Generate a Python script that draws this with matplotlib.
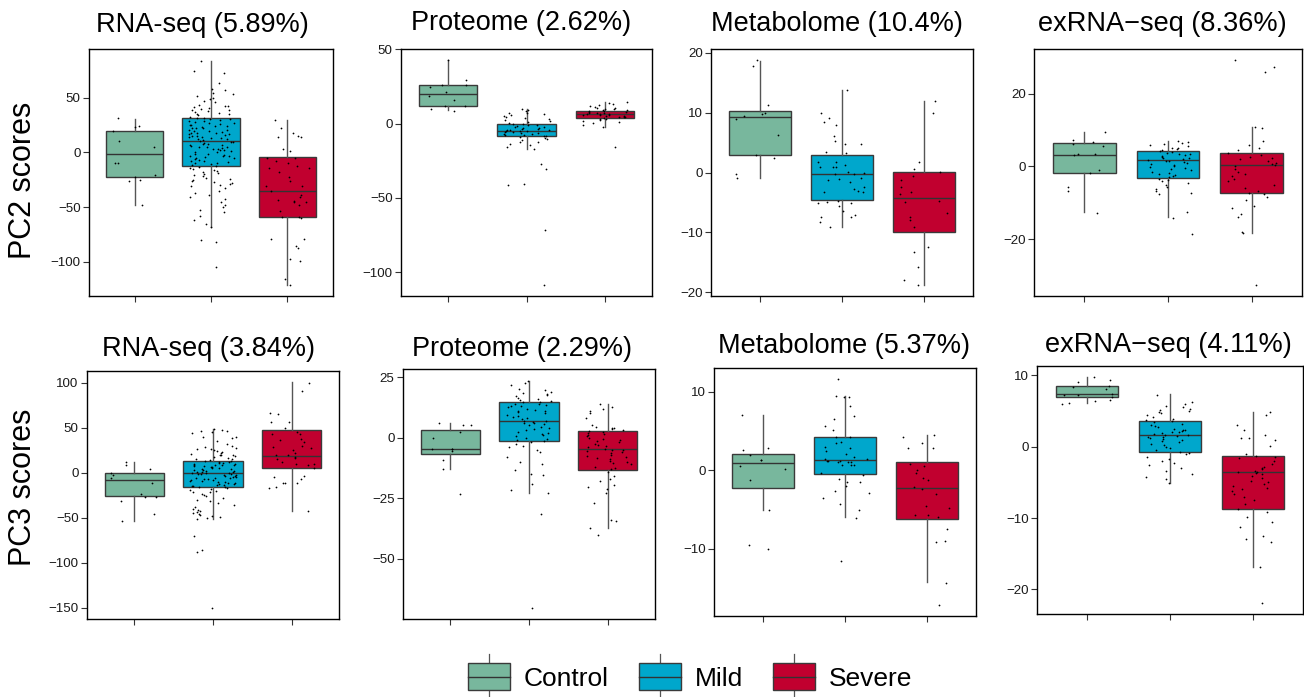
import numpy as np
import matplotlib
matplotlib.use("Agg")
import matplotlib.pyplot as plt
from matplotlib.patches import Rectangle, Patch
from matplotlib.lines import Line2D
from matplotlib.legend_handler import HandlerBase

plt.rcParams['font.family'] = ['Liberation Sans', 'DejaVu Sans']

# ---------------- data ----------------
groups = ["Control", "Mild", "Severe"]
group_colors = ["#78B79D", "#00A7CC", "#C1002F"]
row_labels = ["PC2 scores", "PC3 scores"]
titles_pc2 = ["RNA-seq (5.89%)", "Proteome (2.62%)", "Metabolome (10.4%)", "exRNA\u2212seq (8.36%)"]
titles_pc3 = ["RNA-seq (3.84%)", "Proteome (2.29%)", "Metabolome (5.37%)", "exRNA\u2212seq (4.11%)"]

# box statistics per group: (whisker low, q1, median, q3, whisker high)
rna_pc2_box = [(-48.0, -22.6, -1.5, 19.3, 30.9), (-68.5, -12.5, 10.4, 31.2, 84.0), (-121.4, -59.3, -34.9, -4.3, 29.4)]
prot_pc2_box = [(9.2, 11.9, 19.7, 26.2, 42.6), (-16.8, -8.7, -4.7, -0.2, 9.9), (-2.0, 3.8, 6.5, 8.3, 14.8)]
met_pc2_box = [(-1.0, 2.84, 9.25, 10.25, 18.66), (-9.08, -4.57, -0.28, 2.9, 13.7), (-18.77, -9.97, -4.18, 0.11, 11.87)]
exr_pc2_box = [(-12.6, -1.65, 3.2, 6.3, 9.4), (-13.9, -3.2, 1.65, 4.2, 7.0), (-18.1, -7.3, 0.27, 3.66, 10.7)]
rna_pc3_box = [(-53.3, -26.3, -8.5, 0.0, 12.2), (-51.1, -15.9, 0.0, 13.3, 48.5), (-42.2, 4.8, 18.1, 47.0, 100.4)]
prot_pc3_box = [(-12.9, -6.6, -4.5, 3.2, 6.0), (-22.8, -1.4, 7.0, 14.8, 23.5), (-37.2, -13.3, -4.7, 2.9, 14.0)]
met_pc3_box = [(-5.07, -2.26, 0.9, 2.13, 7.0), (-6.0, -0.47, 1.28, 4.22, 9.42), (-14.3, -6.18, -2.22, 1.02, 4.48)]
exr_pc3_box = [(6.07, 6.9, 7.4, 8.5, 9.75), (-5.09, -0.7, 1.68, 3.64, 7.33), (-16.85, -8.8, -3.6, -1.26, 4.85)]

# individual sample scores
rna_pc2_control = [31.5, 23.5, 23.9, 19.9, 10.1, 5.2, -9.5, -10.0, -20.2, -25.1, -25.7, -22.9, -47.7]
rna_pc2_mild = [84, 75, 73, 64, 58, 57, 55, 54, 52, 50, 49, 47, 46, 44, 43, 43, 42, 41, 40, 39, 39, 38, 37, 36,
                35, 35, 34, 33, 32, 32, 31, 30.5, 30, 29, 28.5, 28, 27, 27, 26, 25.5, 25, 24, 24, 23, 22.5, 22,
                22, 21, 21, 20, 19.5, 19, 18, 18, 18, 17, 16.5, 16, 15, 15, 14, 14, 13.5, 13, 12, 12, 11, 10.5,
                10, 9.5, 9, 8, 8, 7, 6.5, 6, 5, 5, 5, 4, 3.5, 3, 2, 2, 1, 0.5, 0, -1, -1.5, -2, -3, -3, -3.5, -4,
                -5, -5, -6, -7, -7.5, -8, -9, -9.5, -10, -11, -11.5, -12, -13, -14, -15, -16, -17, -18, -19,
                -20, -21, -22, -23, -24, -25, -26, -27, -28, -29, -30, -31, -33, -35, -37, -39, -41, -43, -45,
                -48, -50, -53, -55, -58, -62, -66, -68, -80, -82, -105]
rna_pc2_severe = [30, 18.3, 22.9, 15.3, 13.8, 13.8, 3.4, 1.8, -4.6, -9.2, -7.6, -13.8, -14.4, -18, -22.9, -30.3,
                  -34.9, -38.8, -40.4, -45, -45, -48.6, -44, -44.6, -53.2, -59.3, -59.3, -78.9, -79.5, -86.2,
                  -87.8, -97.5, -99.1, -115.6, -121.4, -5.2, -26, -31, -12, -60.5]

prot_pc2_control = [42.6, 29.4, 24.7, 26.2, 26.2, 18.6, 15.9, 21.1, 11.9, 11.9, 9.9, 8.7]
prot_pc2_mild = [9.9, 9.2, 8.5, 7.4, 6.9, 6.3, 5.8, 4.9, 4.1, 3.6, 3.0, 2.4, 1.5, 0.8, 0.3, 0.0, -0.4, -0.9, -1.3,
                 -1.7, -2.1, -2.5, -2.8, -3.2, -3.4, -3.8, -4.0, -4.3, -4.5, -4.8, -5.0, -5.3, -5.6, -5.9, -6.1,
                 -6.5, -6.8, -7.0, -7.4, -7.8, -8.1, -8.6, -9.0, -9.6, -10.2, -11.0, -12.1, -12.7, -13.6, -14.4,
                 -15.5, -16.8, -26.9, -30.5, -41.0, -41.7, -71.7, -108.5]
prot_pc2_severe = [14.8, 14.0, 13.5, 12.6, 11.8, 11.2, 10.8, 10.4, 10.0, 9.6, 9.2, 8.9, 8.5, 8.2, 8.0, 7.7, 7.4,
                   7.2, 6.9, 6.7, 6.5, 6.3, 6.0, 5.8, 5.5, 5.2, 5.0, 4.7, 4.4, 4.1, 3.8, 3.4, 3.0, 2.5, 1.8, 1.0,
                   0.2, -1.0, -2.0, -15.5]

met_pc2_control = [18.7, 17.8, 11.2, 9.5, 8.9, 9.9, 9.8, 6.3, 2.9, 2.45, -0.17, -1.0]
met_pc2_mild = [13.7, 9.1, 9.9, 8.4, 8.0, 6.1, 4.8, 4.7, 5.2, 3.5, 3.2, 1.7, 1.8, 1.0, 1.0, 1.0, 1.2, 0.1, -0.3,
                0.0, -0.2, -1.6, -1.1, -1.2, -1.0, -2.7, -2.5, -3.1, -3.3, -3.2, -5.1, -4.9, -4.8, -5.1, -5.6,
                -6.5, -7.1, -7.5, -7.5, -8.3, -9.1]
met_pc2_severe = [11.9, 10.0, 1.7, 0.6, 0.05, -0.55, -1.3, -3.3, -3.6, -4.8, -5.0, -6.7, -7.5, -9.1, -12.4,
                  -13.2, -15.7, -17.9, -18.8, -2.4, -8.0]

exr_pc2_control = [9.4, 7.3, 6.2, 6.7, 5.5, 3.2, 3.3, 3.4, -1.1, -1.7, -5.7, -6.7, -12.8]
exr_pc2_mild = [7.0, 6.8, 6.4, 6.1, 5.8, 5.5, 5.2, 5.0, 4.7, 4.4, 4.2, 3.9, 3.7, 3.5, 3.3, 3.1, 2.8, 2.6, 2.4,
                2.2, 2.0, 1.8, 1.6, 1.4, 1.2, 0.9, 0.7, 0.4, 0.1, -0.2, -0.5, -0.8, -1.1, -1.4, -1.7, -2.0, -2.3,
                -2.6, -2.9, -3.3, -3.6, -4.0, -4.4, -5.0, -5.6, -6.2, -6.6, -7.2, -7.5, -12.6, -14.0, -18.6]
exr_pc2_severe = [29.1, 27.3, 25.9, 10.8, 10.6, 6.9, 5.8, 5.1, 4.4, 3.6, 3.1, 2.7, 2.4, 2.0, 1.5, 1.0, 0.6, 0.3,
                  0.0, -0.6, -1.6, -2.1, -2.6, -3.5, -4.1, -5.0, -6.0, -6.8, -7.3, -7.6, -8.3, -9.1, -10.9,
                  -11.4, -13.1, -13.8, -18.0, -18.3, -32.4]

rna_pc3_control = [12.2, 8.5, 4.1, -5.6, 0.0, -2.2, -11.9, -23.7, -26.7, -26.7, -31.9, -45.9, -53.3]
rna_pc3_mild = [48.5, 47, 46, 46, 45, 44, 40, 39, 38, 35, 32, 30, 28, 27, 26, 26, 25, 24, 23, 22, 21, 20, 20, 19,
                18, 17, 16, 15, 15, 14, 13, 13, 12, 12, 11, 11, 10, 10, 9, 9, 8, 8, 7, 7, 6, 6, 5, 5, 4, 4, 3, 3,
                2, 2, 1, 1, 0.5, 0, 0, -0.5, -1, -1.5, -2, -2.5, -3, -3.5, -4, -4.5, -5, -5.5, -6, -6.5, -7,
                -7.5, -8, -8.5, -9, -9.5, -10, -10.5, -11, -12, -12.5, -13, -13.5, -14, -14.5, -15, -15.5, -16,
                -17, -18, -19, -20, -21, -22, -24, -25, -26, -28, -30, -32, -34, -36, -38, -40, -42, -43, -44,
                -45, -46, -47, -48, -49, -50, -51, -70, -86, -88, -150]
rna_pc3_severe = [100, 91, 65, 66, 56.7, 56, 49, 42.6, 43, 36.3, 37.4, 21.5, 25.2, 27.8, 28.9, 15.2, 15.9, 17.8,
                  9.3, 4.8, 9.6, -3.7, -7.4, -5.2, -11.1, -11.9, -11.1, -15.6, -16.7, -42.2, 30, 34, 12, 20, 19,
                  45, 8]

prot_pc3_control = [5.1, 5.3, 6.0, 2.3, 0.0, -4.7, -4.7, -4.7, -5.6, -9.3, -13.0, -23.2]
prot_pc3_mild = [23.5, 22.5, 21.5, 20, 19.5, 19, 18.5, 18, 17.5, 17, 16.5, 16, 15.5, 15, 14.8, 14.5, 14, 14, 13.5,
                 13, 13, 12.5, 12, 11.5, 11, 11, 10.5, 10, 9.5, 9, 8.5, 8, 7.5, 7, 7, 6.5, 6, 6, 5.5, 5, 4.5, 4,
                 3.5, 3, 2.5, 2, 1.5, 1, 0.5, 0, -0.5, -1, -1.5, -2, -2.5, -3.5, -4, -5, -6, -8, -10, -11, -13.5,
                 -15, -15.5, -19, -21.5, -22.8, -31.6, -70.1]
prot_pc3_severe = [14, 12.5, 12, 11, 10, 8, 5, 4.5, 4, 4, 3.5, 3, 2.9, 2.5, 2, 1.5, 1, 0.5, 0, -0.5, -1, -1.5, -2,
                   -2.5, -3, -3.5, -4, -4.5, -5, -5, -5.5, -6, -6.5, -7, -7.5, -8, -8.5, -9, -9.5, -10, -10.5, -11,
                   -12, -12.5, -13, -14, -16, -17, -18, -19.5, -20.5, -21, -23, -27, -34, -34.5, -37.2, -40.2]

met_pc3_control = [7.0, 2.9, 2.6, 2.0, 1.3, 1.3, 0.6, 0.17, -1.3, -5.07, -9.6, -10.0]
met_pc3_mild = [11.6, 9.5, 9.4, 9.4, 8.2, 6.9, 6.6, 5.6, 5.1, 4.2, 4.3, 3.6, 3.5, 3.0, 2.8, 2.4, 2.1, 1.7, 1.0,
                1.2, 1.0, 1.4, 1.4, 0.7, 0.7, 0.7, 1.2, 1.2, 1.1, -0.3, -0.6, -1.5, -1.1, -1.5, -2.0, -2.9, -3.5,
                -2.6, -4.3, -5.1, -6.1, -11.6]
met_pc3_severe = [4.3, 4.48, 3.5, 2.9, 2.9, 0.5, 0.0, -0.3, -1.3, -2.1, -2.4, -4.8, -4.5, -5.7, -5.7, -7.5, -9.0,
                  -9.1, -14.4, -17.2, -3.0, -1.0, 0.8, -6.0]

exr_pc3_control = [9.75, 9.3, 9.0, 8.1, 8.35, 8.45, 7.4, 7.2, 7.3, 6.9, 6.6, 6.4, 6.07, 6.0]
exr_pc3_mild = [7.3, 6.3, 6.0, 5.7, 5.5, 5.3, 5.2, 5.0, 4.9, 4.7, 4.5, 4.2, 3.9, 3.7, 3.6, 3.4, 3.2, 3.0, 2.9,
                2.7, 2.5, 2.4, 2.3, 2.2, 2.1, 2.0, 1.9, 1.8, 1.7, 1.6, 1.5, 1.4, 1.3, 1.2, 1.1, 1.0, 0.8, 0.6,
                0.4, 0.2, 0.0, -0.2, -0.5, -0.7, -0.9, -1.1, -1.4, -1.7, -2.0, -2.3, -2.6, -3.0, -3.4, -3.8,
                -4.2, -4.6, -5.1]
exr_pc3_severe = [4.85, 4.5, 3.0, 2.3, 1.7, 1.2, 1.2, 0.9, 0.05, -1.0, -1.3, -1.5, -1.6, -2.0, -2.5, -2.8, -3.0,
                  -3.2, -3.4, -3.5, -3.6, -3.7, -3.9, -4.1, -4.4, -4.8, -5.0, -5.3, -5.5, -5.8, -6.0, -6.2, -6.6,
                  -7.0, -7.5, -8.0, -8.8, -9.2, -9.9, -10.5, -11.2, -12.5, -12.9, -13.3, -16.85, -21.9]

# axis ranges and ticks
ylims = [(-131.6, 94.9), (-116.1, 50.2), (-20.6, 20.6), (-35.5, 32.2),
         (-162.5, 112.8), (-74.8, 28.3), (-18.6, 13.05), (-23.45, 11.3)]
yticks = [[-100, -50, 0, 50], [-100, -50, 0, 50], [-20, -10, 0, 10, 20], [-20, 0, 20],
          [-150, -100, -50, 0, 50, 100], [-50, -25, 0, 25], [-10, 0, 10], [-20, -10, 0, 10]]

# ---------------- layout (pixels) ----------------
W, H = 1304, 697
axes_px = [(89, 49, 333, 296), (401, 49, 652, 296), (711, 49, 973, 296), (1034, 49, 1302, 296),
           (87, 371, 339, 619), (403, 369, 655, 619), (714, 368, 976, 616), (1037, 366, 1303, 614)]
title_px = [(202, 32), (521, 30), (837, 31), (1162, 31),
            (208, 356), (522, 356), (844, 353), (1168, 352)]

boxes = [rna_pc2_box, prot_pc2_box, met_pc2_box, exr_pc2_box,
         rna_pc3_box, prot_pc3_box, met_pc3_box, exr_pc3_box]
points = [[rna_pc2_control, rna_pc2_mild, rna_pc2_severe],
          [prot_pc2_control, prot_pc2_mild, prot_pc2_severe],
          [met_pc2_control, met_pc2_mild, met_pc2_severe],
          [exr_pc2_control, exr_pc2_mild, exr_pc2_severe],
          [rna_pc3_control, rna_pc3_mild, rna_pc3_severe],
          [prot_pc3_control, prot_pc3_mild, prot_pc3_severe],
          [met_pc3_control, met_pc3_mild, met_pc3_severe],
          [exr_pc3_control, exr_pc3_mild, exr_pc3_severe]]
titles = titles_pc2 + titles_pc3

fig = plt.figure(figsize=(W / 100, H / 100), dpi=100)
rng = np.random.default_rng(11)  # horizontal jitter only

for k in range(8):
    l, t, r, b = axes_px[k]
    ax = fig.add_axes([l / W, 1 - b / H, (r - l) / W, (b - t) / H])
    stats = []
    for (wlo, q1, med, q3, whi) in boxes[k]:
        stats.append(dict(whislo=wlo, q1=q1, med=med, q3=q3, whishi=whi, fliers=[]))
    bp = ax.bxp(stats, positions=[1, 2, 3], widths=0.75, patch_artist=True,
                showfliers=False, showcaps=False,
                boxprops=dict(edgecolor="#3a3a3a", linewidth=1.0),
                medianprops=dict(color="#333333", linewidth=1.0),
                whiskerprops=dict(color="#555555", linewidth=1.0),
                zorder=2)
    for patch, c in zip(bp['boxes'], group_colors):
        patch.set_facecolor(c)
    for i, vals in enumerate(points[k]):
        x = (i + 1) + rng.uniform(-0.3, 0.3, len(vals))
        ax.scatter(x, vals, s=1.6, color="black", linewidths=0, zorder=3)
    ax.set_xlim(0.4, 3.6)
    ax.set_ylim(*ylims[k])
    ax.set_yticks(yticks[k])
    ax.set_xticks([1, 2, 3])
    ax.set_xticklabels([])
    ax.tick_params(axis='both', length=4, width=0.8, color="#333333", labelsize=9.6,
                   labelcolor="#1a1a1a", pad=2)
    for sp in ax.spines.values():
        sp.set_linewidth(1.0)
        sp.set_color("black")
    cx, by = title_px[k]
    fig.text(cx / W, 1 - by / H, titles[k], ha='center', va='baseline', fontsize=19.5, color="black")

fig.text(23 / W, 1 - 180 / H, row_labels[0], rotation=90, ha='center', va='center', fontsize=22)
fig.text(23 / W, 1 - 487 / H, row_labels[1], rotation=90, ha='center', va='center', fontsize=22)


class BoxKey(HandlerBase):
    def create_artists(self, legend, orig_handle, xdescent, ydescent, width, height, fontsize, trans):
        x0, y0 = -xdescent, -ydescent
        whisk = height * 0.33
        w1 = Line2D([x0 + width / 2] * 2, [y0 + height, y0 + height + whisk], color="#555555", lw=0.9,
                    transform=trans)
        w2 = Line2D([x0 + width / 2] * 2, [y0 - whisk, y0], color="#555555", lw=0.9, transform=trans)
        rect = Rectangle((x0, y0), width, height, facecolor=orig_handle.get_facecolor(),
                         edgecolor="#3a3a3a", lw=1.0, transform=trans)
        med = Line2D([x0, x0 + width], [y0 + height / 2] * 2, color="#333333", lw=1.0, transform=trans)
        return [w1, w2, rect, med]


handles = [Patch(facecolor=c) for c in group_colors]
fig.legend(handles, groups, loc='center', bbox_to_anchor=(690 / W, 1 - 677 / H), ncol=3, frameon=False,
           fontsize=19, handlelength=1.6, handleheight=1.2, handletextpad=0.5, columnspacing=1.15,
           handler_map={Patch: BoxKey()})

fig.savefig("out.png", dpi=100)
